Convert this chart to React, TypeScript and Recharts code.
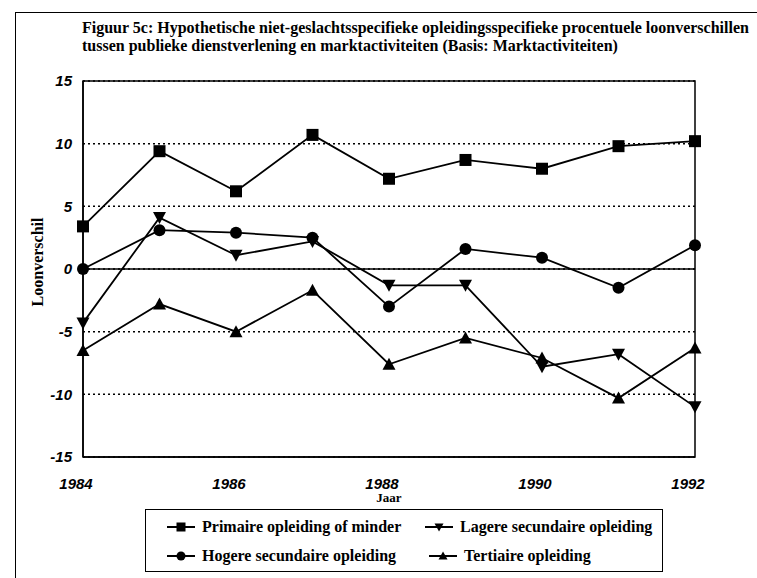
import React from "react";
import {
  CartesianGrid,
  Label,
  Line,
  LineChart,
  ReferenceArea,
  ReferenceLine,
  XAxis,
  YAxis,
} from "recharts";

const years = [1984, 1985, 1986, 1987, 1988, 1989, 1990, 1991, 1992];
const primaire = [3.4, 9.4, 6.2, 10.7, 7.2, 8.7, 8.0, 9.8, 10.2];
const hogere = [0, 3.1, 2.9, 2.5, -3.0, 1.6, 0.9, -1.5, 1.9];
const lagere = [-4.3, 4.1, 1.1, 2.2, -1.3, -1.3, -7.8, -6.8, -11.0];
const tertiaire = [-6.5, -2.8, -5.0, -1.7, -7.6, -5.5, -7.1, -10.3, -6.3];

const xTicks = [1984, 1986, 1988, 1990, 1992];
const yTicks = [-15, -10, -5, 0, 5, 10, 15];

const titleLines = [
  "Figuur 5c: Hypothetische niet-geslachtsspecifieke opleidingsspecifieke procentuele loonverschillen",
  "tussen publieke dienstverlening en marktactiviteiten (Basis: Marktactiviteiten)",
];

const rows = years.map((year, i) => ({
  year,
  primaire: primaire[i],
  hogere: hogere[i],
  lagere: lagere[i],
  tertiaire: tertiaire[i],
}));

const serif = "'Liberation Serif', 'Times New Roman', serif";
const sans = "'Liberation Sans', Arial, sans-serif";

type MarkProps = { cx?: number; cy?: number; s?: number };

function Square({ cx = 0, cy = 0, s = 12 }: MarkProps) {
  return <rect x={cx - s / 2} y={cy - s / 2} width={s} height={s} fill="#000" />;
}
function Dot({ cx = 0, cy = 0, s = 12 }: MarkProps) {
  return <circle cx={cx} cy={cy} r={s / 2} fill="#000" />;
}
function TriDown({ cx = 0, cy = 0, s = 13 }: MarkProps) {
  const h = s / 2;
  return (
    <polygon
      points={`${cx - h},${cy - h + 1} ${cx + h},${cy - h + 1} ${cx},${cy + h}`}
      fill="#000"
    />
  );
}
function TriUp({ cx = 0, cy = 0, s = 13 }: MarkProps) {
  const h = s / 2;
  return (
    <polygon
      points={`${cx - h},${cy + h - 1} ${cx + h},${cy + h - 1} ${cx},${cy - h}`}
      fill="#000"
    />
  );
}

const series = [
  { key: "primaire", name: "Primaire opleiding of minder", Mark: Square },
  { key: "hogere", name: "Hogere secundaire opleiding", Mark: Dot },
  { key: "lagere", name: "Lagere secundaire opleiding", Mark: TriDown },
  { key: "tertiaire", name: "Tertiaire opleiding", Mark: TriUp },
];

function LegendItem({ name, Mark }: { name: string; Mark: (p: MarkProps) => React.ReactElement }) {
  return (
    <div style={{ display: "flex", alignItems: "center", height: 28 }}>
      <svg width={28} height={14} style={{ marginRight: 7 }}>
        <line x1={0} y1={7} x2={28} y2={7} stroke="#000" strokeWidth={2} />
        <Mark cx={14} cy={7} s={9} />
      </svg>
      <span>{name}</span>
    </div>
  );
}

export default function App() {
  const [prim, hog, lag, ter] = series;
  return (
    <div
      style={{
        position: "absolute",
        left: 0,
        top: 0,
        width: 757,
        height: 578,
        overflow: "hidden",
        background: "#fff",
      }}
    >
      {/* frame of the scanned page */}
      <div
        style={{
          position: "absolute",
          left: 15,
          top: 12,
          width: 800,
          height: 700,
          borderLeft: "1.5px solid #000",
          borderTop: "1.5px solid #000",
        }}
      />
      <div
        style={{
          position: "absolute",
          left: 82,
          top: 19,
          fontFamily: serif,
          fontWeight: "bold",
          fontSize: 16,
          lineHeight: "18px",
          whiteSpace: "nowrap",
        }}
      >
        {titleLines.map((t) => (
          <div key={t}>{t}</div>
        ))}
      </div>

      <LineChart
        width={757}
        height={578}
        data={rows}
        margin={{ top: 81, right: 62, bottom: 0, left: 0 }}
        style={{ position: "absolute", left: 0, top: 0 }}
      >
        <CartesianGrid
          vertical={false}
          stroke="#000"
          strokeWidth={1.5}
          strokeDasharray="2 3"
        />
        <XAxis
          dataKey="year"
          type="number"
          domain={[1984, 1992]}
          ticks={xTicks}
          height={121}
          tickLine={false}
          tickSize={0}
          tickMargin={21}
          axisLine={{ stroke: "#000", strokeWidth: 1.5 }}
          tick={{
            fill: "#000",
            fontFamily: sans,
            fontSize: 15,
            fontWeight: "bold",
            fontStyle: "italic",
            dx: -7,
          }}
        >
          <Label
            content={({ viewBox }: any) => (
              <text
                x={viewBox.x + viewBox.width / 2}
                y={viewBox.y + 45}
                textAnchor="middle"
                fontFamily={serif}
                fontWeight="bold"
                fontSize={13}
                fill="#000"
              >
                Jaar
              </text>
            )}
          />
        </XAxis>
        <YAxis
          type="number"
          domain={[-15, 15]}
          ticks={yTicks}
          width={83}
          tickLine={false}
          tickSize={0}
          tickMargin={11}
          axisLine={{ stroke: "#000", strokeWidth: 1.5 }}
          tick={{
            fill: "#000",
            fontFamily: sans,
            fontSize: 15,
            fontWeight: "bold",
            fontStyle: "italic",
          }}
        >
          <Label
            content={({ viewBox }: any) => {
              const x = viewBox.x + 43;
              const y = viewBox.y + viewBox.height / 2 - 7;
              return (
                <text
                  x={x}
                  y={y}
                  transform={`rotate(-90 ${x} ${y})`}
                  textAnchor="middle"
                  fontFamily={serif}
                  fontWeight="bold"
                  fontSize={16}
                  fill="#000"
                >
                  Loonverschil
                </text>
              );
            }}
          />
        </YAxis>
        <ReferenceArea
          x1={1984}
          x2={1992}
          y1={-15}
          y2={15}
          fill="none"
          stroke="#000"
          strokeWidth={1.5}
          fillOpacity={0}
        />
        <ReferenceLine y={0} stroke="#000" strokeWidth={1.5} />
        {series.map(({ key, name, Mark }) => (
          <Line
            key={key}
            dataKey={key}
            name={name}
            type="linear"
            stroke="#000"
            strokeWidth={1.8}
            isAnimationActive={false}
            dot={(p: any) => <Mark key={`${key}-${p.index}`} cx={p.cx} cy={p.cy} />}
            activeDot={false}
          />
        ))}
      </LineChart>

      <div
        style={{
          position: "absolute",
          left: 145,
          top: 509,
          width: 518,
          height: 63,
          boxSizing: "border-box",
          border: "1.5px solid #000",
          fontFamily: serif,
          fontWeight: "bold",
          fontSize: 16,
          display: "grid",
          gridTemplateColumns: "258px 250px",
          paddingLeft: 21,
          paddingTop: 3,
        }}
      >
        <LegendItem name={prim.name} Mark={prim.Mark} />
        <LegendItem name={lag.name} Mark={lag.Mark} />
        <LegendItem name={hog.name} Mark={hog.Mark} />
        <div style={{ paddingLeft: 4 }}>
          <LegendItem name={ter.name} Mark={ter.Mark} />
        </div>
      </div>
    </div>
  );
}
